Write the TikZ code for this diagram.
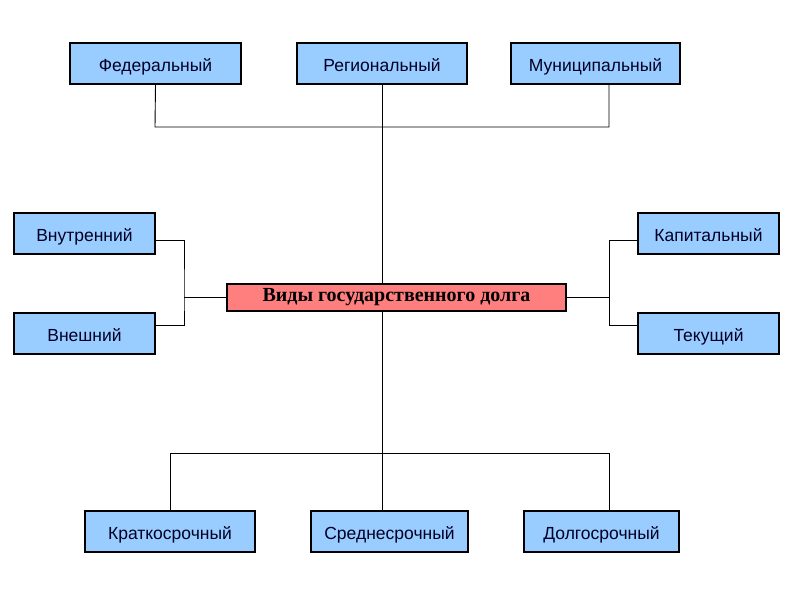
\documentclass[tikz,border=0pt]{standalone}
\usepackage{fontspec}
\setmainfont{Liberation Sans}
\newfontfamily\serifbold{Liberation Serif}
\definecolor{boxblue}{HTML}{99CCFF}
\definecolor{boxred}{HTML}{FF7F7F}
\begin{document}
\begin{tikzpicture}[x=1pt,y=-1pt,
  leaf/.style={draw=black,fill=boxblue,line width=1.1pt,inner sep=0pt,
    text depth=0pt,text height=15pt,
    font=\fontsize{17.5}{20}\selectfont,text=black!85!blue},
  root/.style={draw=black,fill=boxred,line width=1.1pt,inner sep=0pt,
    font=\serifbold\bfseries\fontsize{20}{22}\selectfont},
  conn/.style={draw=black,line width=0.9pt}]
\useasboundingbox (0,0) rectangle (794,595);
\node[leaf,minimum width=171,minimum height=41] (fed) at (155.5,63.5) {Федеральный};
\node[leaf,minimum width=170,minimum height=41] (reg) at (382,63.5) {Региональный};
\node[leaf,minimum width=169,minimum height=41] (mun) at (595.5,63.5) {Муниципальный};
\node[root,minimum width=339,minimum height=27] (root) at (396.5,297.5) {Виды государственного долга};
\node[leaf,minimum width=141,minimum height=41] (vnu) at (84.5,233.5) {Внутренний};
\node[leaf,minimum width=141,minimum height=41] (vne) at (84.5,333.5) {Внешний};
\node[leaf,minimum width=141,minimum height=41] (kap) at (708.5,233.5) {Капитальный};
\node[leaf,minimum width=141,minimum height=41] (tek) at (708.5,333.5) {Текущий};
\node[leaf,minimum width=170,minimum height=41] (kra) at (170,531.5) {Краткосрочный};
\node[leaf,minimum width=157,minimum height=41] (sre) at (389.5,531.5) {Среднесрочный};
\node[leaf,minimum width=155,minimum height=41] (dol) at (601.5,531.5) {Долгосрочный};
\coordinate (topbar) at (382,127);
\coordinate (botbar) at (382,453);
\coordinate (lj) at (184,297);
\coordinate (rj) at (609,297);
% top
\draw[conn] (fed.south) -- (155,127) -- (609,127) -- (609,84);
\draw[conn] (reg.south) -- (root.north -| reg.south);
% left
\draw[conn] (vnu.east |- 0,240) -| (lj) |- (vne.east |- 0,325);
\draw[conn] (lj) -- (root.west |- lj);
% right
\draw[conn] (kap.west |- 0,240) -| (rj) |- (tek.west |- 0,325);
\draw[conn] (rj) -- (root.east |- rj);
% bottom
\draw[conn] (root.south -| botbar) -- (botbar);
\draw[conn] (kra.north) -- (170,453) -- (609,453) -- (609,511);
\draw[conn] (sre.north -| botbar) -- (botbar);
\end{tikzpicture}
\end{document}
